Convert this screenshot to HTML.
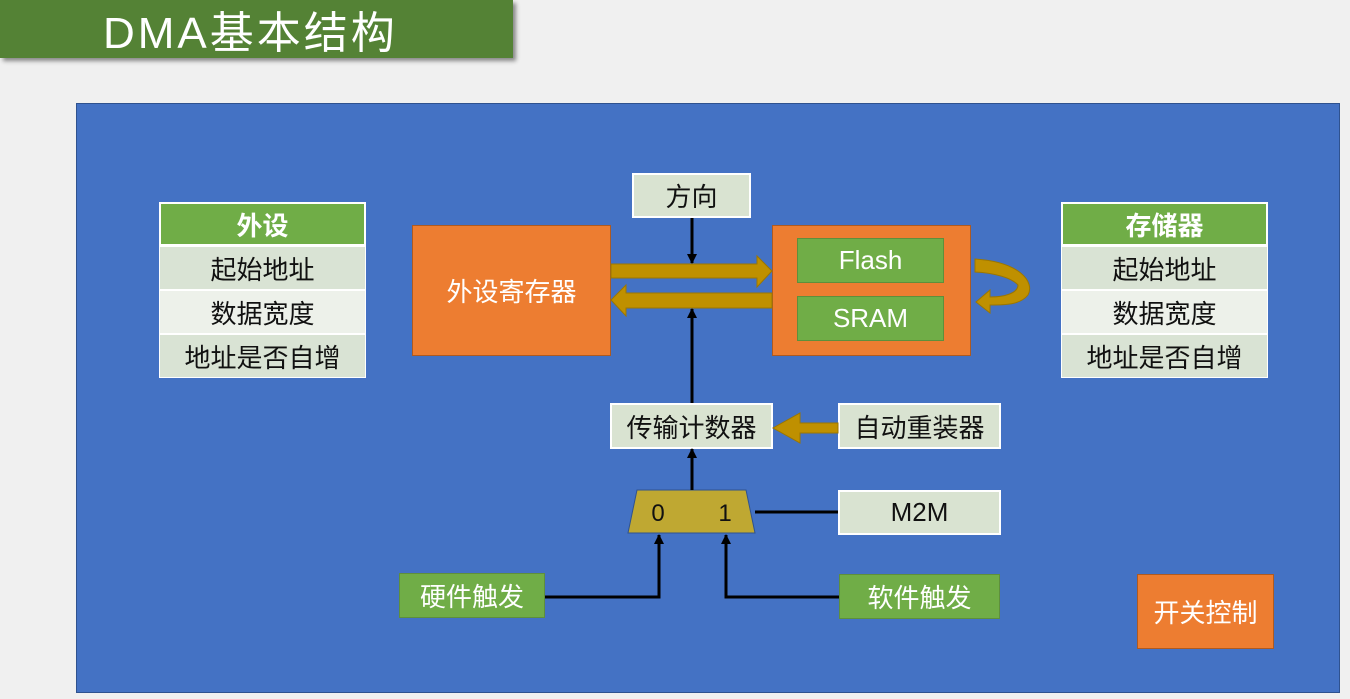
<!DOCTYPE html>
<html><head><meta charset="utf-8"><style>
*{margin:0;padding:0;box-sizing:border-box}
body{width:1350px;height:699px;background:#f0f0f0;position:relative;overflow:hidden;font-family:"Liberation Sans","Noto Sans CJK SC",sans-serif}
.a{position:absolute;display:flex;align-items:center;justify-content:center;font-size:26px;color:#111}
.lg{background:#d9e3d1;border:2px solid #fff}
.gr{background:#70ad47;color:#fff;border:1.5px solid #5e8f3c}
.or{background:#ed7d31;border:1.5px solid #ae5a21;color:#fff}
</style></head><body>
<div class="a" style="left:0;top:0;width:513px;height:58px;background:#548235;box-shadow:3px 3px 4px #888;color:#fff;font-size:44px;letter-spacing:3px;justify-content:flex-start;padding-left:103px">DMA基本结构</div>
<div style="position:absolute;left:76px;top:103px;width:1264px;height:590px;background:#4472c4;border:1px solid #2f528f"></div>

<div class="a" style="left:159px;top:202px;width:207px;height:44px;background:#70ad47;color:#fff;font-weight:bold;border:2px solid #fff">外设</div>
<div class="a" style="left:159px;top:246px;width:207px;height:44px;background:#d9e3d4;border:1px solid #fff">起始地址</div>
<div class="a" style="left:159px;top:290px;width:207px;height:44px;background:#edf1ea;border:1px solid #fff">数据宽度</div>
<div class="a" style="left:159px;top:334px;width:207px;height:44px;background:#d9e3d4;border:1px solid #fff">地址是否自增</div>

<div class="a" style="left:1061px;top:202px;width:207px;height:44px;background:#70ad47;color:#fff;font-weight:bold;border:2px solid #fff">存储器</div>
<div class="a" style="left:1061px;top:246px;width:207px;height:44px;background:#d9e3d4;border:1px solid #fff">起始地址</div>
<div class="a" style="left:1061px;top:290px;width:207px;height:44px;background:#edf1ea;border:1px solid #fff">数据宽度</div>
<div class="a" style="left:1061px;top:334px;width:207px;height:44px;background:#d9e3d4;border:1px solid #fff">地址是否自增</div>

<div class="a or" style="left:412px;top:225px;width:199px;height:131px">外设寄存器</div>
<div class="a or" style="left:772px;top:225px;width:199px;height:131px"></div>
<div class="a gr" style="left:797px;top:238px;width:147px;height:45px">Flash</div>
<div class="a gr" style="left:797px;top:296px;width:147px;height:45px">SRAM</div>

<div class="a lg" style="left:632px;top:173px;width:119px;height:45px">方向</div>
<div class="a lg" style="left:610px;top:403px;width:163px;height:46px">传输计数器</div>
<div class="a lg" style="left:838px;top:403px;width:163px;height:46px">自动重装器</div>
<div class="a lg" style="left:838px;top:490px;width:163px;height:45px">M2M</div>
<div class="a gr" style="left:399px;top:573px;width:146px;height:45px">硬件触发</div>
<div class="a gr" style="left:839px;top:574px;width:161px;height:45px">软件触发</div>
<div class="a or" style="left:1137px;top:574px;width:137px;height:75px">开关控制</div>

<svg width="1350" height="699" style="position:absolute;left:0;top:0">
<defs><marker id="m" markerWidth="10" markerHeight="10" refX="9" refY="5" orient="auto" markerUnits="userSpaceOnUse"><path d="M0,0 L10,5 L0,10z" fill="#000"/></marker></defs>
<g fill="#bf9000" stroke="#9c7600" stroke-width="1">
<path d="M611,264 L757,264 L757,256 L772,271 L757,287 L757,278 L611,278z"/>
<path d="M772,293 L626,293 L626,285 L611,300 L626,316 L626,308 L772,308z"/>
<path d="M838,423 L800,423 L800,413 L773,428 L800,443 L800,433 L838,433z"/>
<path d="M975,259 C1020,262 1035,282 1028,295 C1020,305 1005,305 990,305 L990,313 L976,302 L990,290 L990,297 C1005,297 1018,293 1018,285 C1012,278 995,273 975,272z"/>
</g>
<path d="M628,533 L637,490 L746,490 L755,533z" fill="#bfa832" stroke="#2f528f"/>
<text x="658" y="521" font-size="24" text-anchor="middle" fill="#111" font-family="Liberation Sans">0</text>
<text x="725" y="521" font-size="24" text-anchor="middle" fill="#111" font-family="Liberation Sans">1</text>
<g stroke="#000" stroke-width="3" fill="none">
<line x1="692" y1="218" x2="692" y2="263" marker-end="url(#m)"/>
<line x1="692" y1="403" x2="692" y2="309" marker-end="url(#m)"/>
<line x1="692" y1="490" x2="692" y2="449" marker-end="url(#m)"/>
<line x1="755" y1="512" x2="838" y2="512"/>
<polyline points="545,597 659,597 659,535" marker-end="url(#m)"/>
<polyline points="839,597 726,597 726,535" marker-end="url(#m)"/>
</g>
</svg>
</body></html>
